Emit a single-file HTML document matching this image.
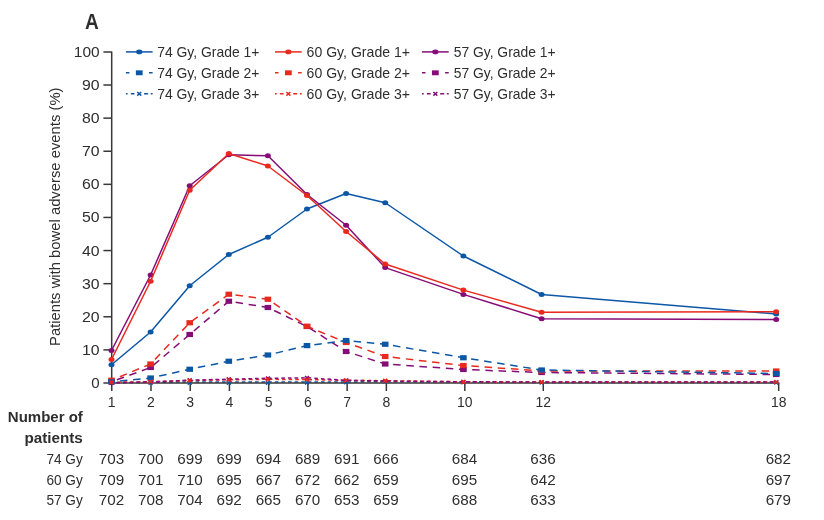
<!DOCTYPE html>
<html><head><meta charset="utf-8"><title>Chart</title>
<style>
html,body{margin:0;padding:0;background:#fff;}
svg{display:block;will-change:transform;}
text{font-family:"Liberation Sans",sans-serif;fill:#2e2e2e;}
</style></head><body>
<svg width="824" height="520" viewBox="0 0 824 520">
<rect width="824" height="520" fill="#fff"/>
<text transform="translate(84.9 28.7) scale(0.89 1)" font-size="21.4" font-weight="bold" fill="#151515">A</text>
<polyline points="111.5,382.6 150.6,382.3 189.7,382 228.8,382 267.9,382 307.0,382 346.1,382 385.2,381.6 463.4,382.2 541.6,382.4 776.2,382.4" fill="none" stroke="#0b57a6" stroke-width="1.5" stroke-dasharray="3.6 3.0" stroke-dashoffset="1.7"/>
<g stroke="#383838" stroke-width="1.5" fill="none"><path d="M103.4 51.9H111.7V383" stroke-linejoin="round"/><path d="M103.4 383H779.4"/><path d="M103.4 349.89H111.75"/><path d="M103.4 316.78H111.75"/><path d="M103.4 283.67H111.75"/><path d="M103.4 250.56H111.75"/><path d="M103.4 217.45H111.75"/><path d="M103.4 184.34H111.75"/><path d="M103.4 151.23H111.75"/><path d="M103.4 118.12H111.75"/><path d="M103.4 85.01H111.75"/><path d="M111.75 383V391"/><path d="M150.98 383V391"/><path d="M190.21 383V391"/><path d="M229.44 383V391"/><path d="M268.67 383V391"/><path d="M307.9 383V391"/><path d="M347.13 383V391"/><path d="M386.36 383V391"/><path d="M464.82 383V391"/><path d="M543.28 383V391"/><path d="M778.66 383V391"/></g>
<text x="99.6" y="388.00" font-size="14" text-anchor="end" textLength="8.4" lengthAdjust="spacingAndGlyphs">0</text><text x="99.6" y="354.89" font-size="14" text-anchor="end" textLength="17.6" lengthAdjust="spacingAndGlyphs">10</text><text x="99.6" y="321.78" font-size="14" text-anchor="end" textLength="17.6" lengthAdjust="spacingAndGlyphs">20</text><text x="99.6" y="288.67" font-size="14" text-anchor="end" textLength="17.6" lengthAdjust="spacingAndGlyphs">30</text><text x="99.6" y="255.56" font-size="14" text-anchor="end" textLength="17.6" lengthAdjust="spacingAndGlyphs">40</text><text x="99.6" y="222.45" font-size="14" text-anchor="end" textLength="17.6" lengthAdjust="spacingAndGlyphs">50</text><text x="99.6" y="189.34" font-size="14" text-anchor="end" textLength="17.6" lengthAdjust="spacingAndGlyphs">60</text><text x="99.6" y="156.23" font-size="14" text-anchor="end" textLength="17.6" lengthAdjust="spacingAndGlyphs">70</text><text x="99.6" y="123.12" font-size="14" text-anchor="end" textLength="17.6" lengthAdjust="spacingAndGlyphs">80</text><text x="99.6" y="90.01" font-size="14" text-anchor="end" textLength="17.6" lengthAdjust="spacingAndGlyphs">90</text><text x="99.6" y="56.90" font-size="14" text-anchor="end" textLength="25.8" lengthAdjust="spacingAndGlyphs">100</text>
<text x="111.75" y="406.8" font-size="14" text-anchor="middle" textLength="7.8" lengthAdjust="spacingAndGlyphs">1</text><text x="150.98" y="406.8" font-size="14" text-anchor="middle" textLength="7.8" lengthAdjust="spacingAndGlyphs">2</text><text x="190.21" y="406.8" font-size="14" text-anchor="middle" textLength="7.8" lengthAdjust="spacingAndGlyphs">3</text><text x="229.44" y="406.8" font-size="14" text-anchor="middle" textLength="7.8" lengthAdjust="spacingAndGlyphs">4</text><text x="268.67" y="406.8" font-size="14" text-anchor="middle" textLength="7.8" lengthAdjust="spacingAndGlyphs">5</text><text x="307.9" y="406.8" font-size="14" text-anchor="middle" textLength="7.8" lengthAdjust="spacingAndGlyphs">6</text><text x="347.13" y="406.8" font-size="14" text-anchor="middle" textLength="7.8" lengthAdjust="spacingAndGlyphs">7</text><text x="386.36" y="406.8" font-size="14" text-anchor="middle" textLength="7.8" lengthAdjust="spacingAndGlyphs">8</text><text x="464.82" y="406.8" font-size="14" text-anchor="middle" textLength="15.5" lengthAdjust="spacingAndGlyphs">10</text><text x="543.28" y="406.8" font-size="14" text-anchor="middle" textLength="15.5" lengthAdjust="spacingAndGlyphs">12</text><text x="778.66" y="406.8" font-size="14" text-anchor="middle" textLength="15.5" lengthAdjust="spacingAndGlyphs">18</text>
<text transform="translate(59.7 346) rotate(-90)" font-size="14.8" textLength="258.5" lengthAdjust="spacingAndGlyphs">Patients with bowel adverse events (%)</text>
<polyline points="111.5,364.75 150.6,332 189.7,285.75 228.8,254.5 267.9,237.25 307.0,209 346.1,193.5 385.2,202.75 463.4,256 541.6,294.5 776.2,314" fill="none" stroke="#0b57a6" stroke-width="1.5" stroke-linejoin="round"/><ellipse cx="111.5" cy="364.75" rx="3" ry="2.5" fill="#0b57a6"/><ellipse cx="150.6" cy="332" rx="3" ry="2.5" fill="#0b57a6"/><ellipse cx="189.7" cy="285.75" rx="3" ry="2.5" fill="#0b57a6"/><ellipse cx="228.8" cy="254.5" rx="3" ry="2.5" fill="#0b57a6"/><ellipse cx="267.9" cy="237.25" rx="3" ry="2.5" fill="#0b57a6"/><ellipse cx="307.0" cy="209" rx="3" ry="2.5" fill="#0b57a6"/><ellipse cx="346.1" cy="193.5" rx="3" ry="2.5" fill="#0b57a6"/><ellipse cx="385.2" cy="202.75" rx="3" ry="2.5" fill="#0b57a6"/><ellipse cx="463.4" cy="256" rx="3" ry="2.5" fill="#0b57a6"/><ellipse cx="541.6" cy="294.5" rx="3" ry="2.5" fill="#0b57a6"/><ellipse cx="776.2" cy="314" rx="3" ry="2.5" fill="#0b57a6"/>
<polyline points="111.5,350.5 150.6,275 189.7,185.75 228.8,154.75 267.9,155.75 307.0,194.5 346.1,225.25 385.2,267.6 463.4,294.4 541.6,318.75 776.2,319.6" fill="none" stroke="#860d77" stroke-width="1.5" stroke-linejoin="round"/><ellipse cx="111.5" cy="350.5" rx="3" ry="2.5" fill="#860d77"/><ellipse cx="150.6" cy="275" rx="3" ry="2.5" fill="#860d77"/><ellipse cx="189.7" cy="185.75" rx="3" ry="2.5" fill="#860d77"/><ellipse cx="228.8" cy="154.75" rx="3" ry="2.5" fill="#860d77"/><ellipse cx="267.9" cy="155.75" rx="3" ry="2.5" fill="#860d77"/><ellipse cx="307.0" cy="194.5" rx="3" ry="2.5" fill="#860d77"/><ellipse cx="346.1" cy="225.25" rx="3" ry="2.5" fill="#860d77"/><ellipse cx="385.2" cy="267.6" rx="3" ry="2.5" fill="#860d77"/><ellipse cx="463.4" cy="294.4" rx="3" ry="2.5" fill="#860d77"/><ellipse cx="541.6" cy="318.75" rx="3" ry="2.5" fill="#860d77"/><ellipse cx="776.2" cy="319.6" rx="3" ry="2.5" fill="#860d77"/>
<polyline points="111.5,359.5 150.6,281.25 189.7,190.25 228.8,153.5 267.9,166 307.0,195.5 346.1,231.5 385.2,264 463.4,290.1 541.6,312.25 776.2,311.8" fill="none" stroke="#e82a1e" stroke-width="1.5" stroke-linejoin="round"/><ellipse cx="111.5" cy="359.5" rx="3" ry="2.5" fill="#e82a1e"/><ellipse cx="150.6" cy="281.25" rx="3" ry="2.5" fill="#e82a1e"/><ellipse cx="189.7" cy="190.25" rx="3" ry="2.5" fill="#e82a1e"/><ellipse cx="228.8" cy="153.5" rx="3" ry="2.5" fill="#e82a1e"/><ellipse cx="267.9" cy="166" rx="3" ry="2.5" fill="#e82a1e"/><ellipse cx="307.0" cy="195.5" rx="3" ry="2.5" fill="#e82a1e"/><ellipse cx="346.1" cy="231.5" rx="3" ry="2.5" fill="#e82a1e"/><ellipse cx="385.2" cy="264" rx="3" ry="2.5" fill="#e82a1e"/><ellipse cx="463.4" cy="290.1" rx="3" ry="2.5" fill="#e82a1e"/><ellipse cx="541.6" cy="312.25" rx="3" ry="2.5" fill="#e82a1e"/><ellipse cx="776.2" cy="311.8" rx="3" ry="2.5" fill="#e82a1e"/>
<polyline points="111.5,381.75 150.6,367.5 189.7,334.5 228.8,301.25 267.9,307.5 307.0,326.5 346.1,351.5 385.2,364 463.4,369.5 541.6,372.5 776.2,374.5" fill="none" stroke="#860d77" stroke-width="1.5" stroke-dasharray="7.5 5.7" stroke-dashoffset="7.4"/><rect x="108.20" y="379.15" width="6.6" height="5.2" fill="#860d77"/><rect x="147.30" y="364.90" width="6.6" height="5.2" fill="#860d77"/><rect x="186.40" y="331.90" width="6.6" height="5.2" fill="#860d77"/><rect x="225.50" y="298.65" width="6.6" height="5.2" fill="#860d77"/><rect x="264.60" y="304.90" width="6.6" height="5.2" fill="#860d77"/><rect x="303.70" y="323.90" width="6.6" height="5.2" fill="#860d77"/><rect x="342.80" y="348.90" width="6.6" height="5.2" fill="#860d77"/><rect x="381.90" y="361.40" width="6.6" height="5.2" fill="#860d77"/><rect x="460.10" y="366.90" width="6.6" height="5.2" fill="#860d77"/><rect x="538.30" y="369.90" width="6.6" height="5.2" fill="#860d77"/><rect x="772.90" y="371.90" width="6.6" height="5.2" fill="#860d77"/>
<polyline points="111.5,380.2 150.6,364 189.7,322.75 228.8,294.25 267.9,299.25 307.0,326.25 346.1,342.5 385.2,356.5 463.4,365.5 541.6,371 776.2,371" fill="none" stroke="#e82a1e" stroke-width="1.5" stroke-dasharray="7.5 5.7" stroke-dashoffset="4.1"/><rect x="108.20" y="377.60" width="6.6" height="5.2" fill="#e82a1e"/><rect x="147.30" y="361.40" width="6.6" height="5.2" fill="#e82a1e"/><rect x="186.40" y="320.15" width="6.6" height="5.2" fill="#e82a1e"/><rect x="225.50" y="291.65" width="6.6" height="5.2" fill="#e82a1e"/><rect x="264.60" y="296.65" width="6.6" height="5.2" fill="#e82a1e"/><rect x="303.70" y="323.65" width="6.6" height="5.2" fill="#e82a1e"/><rect x="342.80" y="339.90" width="6.6" height="5.2" fill="#e82a1e"/><rect x="381.90" y="353.90" width="6.6" height="5.2" fill="#e82a1e"/><rect x="460.10" y="362.90" width="6.6" height="5.2" fill="#e82a1e"/><rect x="538.30" y="368.40" width="6.6" height="5.2" fill="#e82a1e"/><rect x="772.90" y="368.40" width="6.6" height="5.2" fill="#e82a1e"/>
<polyline points="111.5,381.8 150.6,378 189.7,369.25 228.8,361.25 267.9,355 307.0,345.6 346.1,340.5 385.2,344.25 463.4,357.75 541.6,370 776.2,373.5" fill="none" stroke="#0b57a6" stroke-width="1.5" stroke-dasharray="7.5 5.7" stroke-dashoffset="4.7"/><rect x="108.20" y="379.20" width="6.6" height="5.2" fill="#0b57a6"/><rect x="147.30" y="375.40" width="6.6" height="5.2" fill="#0b57a6"/><rect x="186.40" y="366.65" width="6.6" height="5.2" fill="#0b57a6"/><rect x="225.50" y="358.65" width="6.6" height="5.2" fill="#0b57a6"/><rect x="264.60" y="352.40" width="6.6" height="5.2" fill="#0b57a6"/><rect x="303.70" y="343.00" width="6.6" height="5.2" fill="#0b57a6"/><rect x="342.80" y="337.90" width="6.6" height="5.2" fill="#0b57a6"/><rect x="381.90" y="341.65" width="6.6" height="5.2" fill="#0b57a6"/><rect x="460.10" y="355.15" width="6.6" height="5.2" fill="#0b57a6"/><rect x="538.30" y="367.40" width="6.6" height="5.2" fill="#0b57a6"/><rect x="772.90" y="370.90" width="6.6" height="5.2" fill="#0b57a6"/>
<polyline points="111.5,382.3 150.6,381.7 189.7,380.5 228.8,379.8 267.9,379.3 307.0,379.6 346.1,380.3 385.2,380.7 463.4,381.8 541.6,382 776.2,382" fill="none" stroke="#e82a1e" stroke-width="1.5" stroke-dasharray="3.6 3.0" stroke-dashoffset="1.0"/>
<polyline points="111.5,383 150.6,382 189.7,380.2 228.8,379.2 267.9,378.3 307.0,377.8 346.1,380.3 385.2,381 463.4,381.8 541.6,382 776.2,382" fill="none" stroke="#860d77" stroke-width="1.5" stroke-dasharray="3.6 3.0" stroke-dashoffset="1.7"/>
<path d="M109.50 381.00L113.50 384.60M109.50 384.60L113.50 381.00" stroke="#0b57a6" stroke-width="1.5" fill="none"/><path d="M148.60 381.00L152.60 384.60M148.60 384.60L152.60 381.00" stroke="#0b57a6" stroke-width="1.5" fill="none"/><path d="M187.70 381.00L191.70 384.60M187.70 384.60L191.70 381.00" stroke="#0b57a6" stroke-width="1.5" fill="none"/><path d="M226.80 381.00L230.80 384.60M226.80 384.60L230.80 381.00" stroke="#0b57a6" stroke-width="1.5" fill="none"/><path d="M265.90 381.00L269.90 384.60M265.90 384.60L269.90 381.00" stroke="#0b57a6" stroke-width="1.5" fill="none"/><path d="M305.00 380.80L309.00 384.40M305.00 384.40L309.00 380.80" stroke="#0b57a6" stroke-width="1.5" fill="none"/><path d="M344.10 380.50L348.10 384.10M344.10 384.10L348.10 380.50" stroke="#0b57a6" stroke-width="1.5" fill="none"/><path d="M383.20 379.60L387.20 383.20M383.20 383.20L387.20 379.60" stroke="#0b57a6" stroke-width="1.5" fill="none"/><path d="M461.40 380.50L465.40 384.10M461.40 384.10L465.40 380.50" stroke="#0b57a6" stroke-width="1.5" fill="none"/><path d="M539.60 380.80L543.60 384.40M539.60 384.40L543.60 380.80" stroke="#0b57a6" stroke-width="1.5" fill="none"/><path d="M774.20 380.80L778.20 384.40M774.20 384.40L778.20 380.80" stroke="#0b57a6" stroke-width="1.5" fill="none"/>
<path d="M109.50 381.20L113.50 384.80M109.50 384.80L113.50 381.20" stroke="#860d77" stroke-width="1.5" fill="none"/><path d="M148.60 380.20L152.60 383.80M148.60 383.80L152.60 380.20" stroke="#860d77" stroke-width="1.5" fill="none"/><path d="M187.70 378.40L191.70 382.00M187.70 382.00L191.70 378.40" stroke="#860d77" stroke-width="1.5" fill="none"/><path d="M226.80 377.40L230.80 381.00M226.80 381.00L230.80 377.40" stroke="#860d77" stroke-width="1.5" fill="none"/><path d="M265.90 376.50L269.90 380.10M265.90 380.10L269.90 376.50" stroke="#860d77" stroke-width="1.5" fill="none"/><path d="M305.00 376.00L309.00 379.60M305.00 379.60L309.00 376.00" stroke="#860d77" stroke-width="1.5" fill="none"/><path d="M344.10 378.50L348.10 382.10M344.10 382.10L348.10 378.50" stroke="#860d77" stroke-width="1.5" fill="none"/><path d="M383.20 379.20L387.20 382.80M383.20 382.80L387.20 379.20" stroke="#860d77" stroke-width="1.5" fill="none"/><path d="M461.40 380.00L465.40 383.60M461.40 383.60L465.40 380.00" stroke="#860d77" stroke-width="1.5" fill="none"/><path d="M539.60 380.20L543.60 383.80M539.60 383.80L543.60 380.20" stroke="#860d77" stroke-width="1.5" fill="none"/><path d="M774.20 380.20L778.20 383.80M774.20 383.80L778.20 380.20" stroke="#860d77" stroke-width="1.5" fill="none"/>
<path d="M109.50 380.50L113.50 384.10M109.50 384.10L113.50 380.50" stroke="#e82a1e" stroke-width="1.5" fill="none"/><path d="M148.60 379.90L152.60 383.50M148.60 383.50L152.60 379.90" stroke="#e82a1e" stroke-width="1.5" fill="none"/><path d="M187.70 378.70L191.70 382.30M187.70 382.30L191.70 378.70" stroke="#e82a1e" stroke-width="1.5" fill="none"/><path d="M226.80 378.00L230.80 381.60M226.80 381.60L230.80 378.00" stroke="#e82a1e" stroke-width="1.5" fill="none"/><path d="M265.90 377.50L269.90 381.10M265.90 381.10L269.90 377.50" stroke="#e82a1e" stroke-width="1.5" fill="none"/><path d="M305.00 377.80L309.00 381.40M305.00 381.40L309.00 377.80" stroke="#e82a1e" stroke-width="1.5" fill="none"/><path d="M344.10 378.50L348.10 382.10M344.10 382.10L348.10 378.50" stroke="#e82a1e" stroke-width="1.5" fill="none"/><path d="M383.20 378.90L387.20 382.50M383.20 382.50L387.20 378.90" stroke="#e82a1e" stroke-width="1.5" fill="none"/><path d="M461.40 380.00L465.40 383.60M461.40 383.60L465.40 380.00" stroke="#e82a1e" stroke-width="1.5" fill="none"/><path d="M539.60 380.20L543.60 383.80M539.60 383.80L543.60 380.20" stroke="#e82a1e" stroke-width="1.5" fill="none"/><path d="M774.20 380.20L778.20 383.80M774.20 383.80L778.20 380.20" stroke="#e82a1e" stroke-width="1.5" fill="none"/>
<path d="M125.9 51.9H152.6" stroke="#0b57a6" stroke-width="1.5"/><ellipse cx="139.25" cy="51.9" rx="3.1" ry="2.4" fill="#0b57a6"/><path d="M125.9 72.8H129.4M149.0 72.8H152.6" stroke="#0b57a6" stroke-width="1.5"/><rect x="135.85" y="70.35" width="6.8" height="4.9" fill="#0b57a6"/><path d="M125.9 93.8H127.60000000000001M130.8 93.8H134.5M144.1 93.8H148.1M150.8 93.8H152.6" stroke="#0b57a6" stroke-width="1.5"/><path d="M137.25 92.00L141.25 95.60M137.25 95.60L141.25 92.00" stroke="#0b57a6" stroke-width="1.5" fill="none"/><text x="157.2" y="57" font-size="15" textLength="102.2" lengthAdjust="spacingAndGlyphs">74 Gy, Grade 1+</text><text x="157.2" y="77.8" font-size="15" textLength="102.2" lengthAdjust="spacingAndGlyphs">74 Gy, Grade 2+</text><text x="157.2" y="98.6" font-size="15" textLength="102.2" lengthAdjust="spacingAndGlyphs">74 Gy, Grade 3+</text>
<path d="M275 51.9H301.7" stroke="#e82a1e" stroke-width="1.5"/><ellipse cx="288.35" cy="51.9" rx="3.1" ry="2.4" fill="#e82a1e"/><path d="M275 72.8H278.5M298.1 72.8H301.7" stroke="#e82a1e" stroke-width="1.5"/><rect x="284.95" y="70.35" width="6.8" height="4.9" fill="#e82a1e"/><path d="M275 93.8H276.7M279.9 93.8H283.6M293.2 93.8H297.2M299.9 93.8H301.7" stroke="#e82a1e" stroke-width="1.5"/><path d="M286.35 92.00L290.35 95.60M286.35 95.60L290.35 92.00" stroke="#e82a1e" stroke-width="1.5" fill="none"/><text x="306.6" y="57" font-size="15" textLength="103.4" lengthAdjust="spacingAndGlyphs">60 Gy, Grade 1+</text><text x="306.6" y="77.8" font-size="15" textLength="103.4" lengthAdjust="spacingAndGlyphs">60 Gy, Grade 2+</text><text x="306.6" y="98.6" font-size="15" textLength="103.4" lengthAdjust="spacingAndGlyphs">60 Gy, Grade 3+</text>
<path d="M422 51.9H448.7" stroke="#860d77" stroke-width="1.5"/><ellipse cx="435.35" cy="51.9" rx="3.1" ry="2.4" fill="#860d77"/><path d="M422 72.8H425.5M445.1 72.8H448.7" stroke="#860d77" stroke-width="1.5"/><rect x="431.95" y="70.35" width="6.8" height="4.9" fill="#860d77"/><path d="M422 93.8H423.7M426.9 93.8H430.6M440.2 93.8H444.2M446.9 93.8H448.7" stroke="#860d77" stroke-width="1.5"/><path d="M433.35 92.00L437.35 95.60M433.35 95.60L437.35 92.00" stroke="#860d77" stroke-width="1.5" fill="none"/><text x="453.7" y="57" font-size="15" textLength="101.9" lengthAdjust="spacingAndGlyphs">57 Gy, Grade 1+</text><text x="453.7" y="77.8" font-size="15" textLength="101.9" lengthAdjust="spacingAndGlyphs">57 Gy, Grade 2+</text><text x="453.7" y="98.6" font-size="15" textLength="101.9" lengthAdjust="spacingAndGlyphs">57 Gy, Grade 3+</text>
<text x="82.8" y="421.8" font-size="15" font-weight="bold" text-anchor="end" textLength="75" lengthAdjust="spacingAndGlyphs" fill="#1a1a1a">Number of</text><text x="82.8" y="442.5" font-size="15" font-weight="bold" text-anchor="end" textLength="58.4" lengthAdjust="spacingAndGlyphs" fill="#1a1a1a">patients</text>
<text x="82.8" y="464.3" font-size="15" text-anchor="end" textLength="36.4" lengthAdjust="spacingAndGlyphs">74 Gy</text><text x="111.45" y="464.3" font-size="15" text-anchor="middle" textLength="25.4" lengthAdjust="spacingAndGlyphs">703</text><text x="150.68" y="464.3" font-size="15" text-anchor="middle" textLength="25.4" lengthAdjust="spacingAndGlyphs">700</text><text x="189.91" y="464.3" font-size="15" text-anchor="middle" textLength="25.4" lengthAdjust="spacingAndGlyphs">699</text><text x="229.14" y="464.3" font-size="15" text-anchor="middle" textLength="25.4" lengthAdjust="spacingAndGlyphs">699</text><text x="268.37" y="464.3" font-size="15" text-anchor="middle" textLength="25.4" lengthAdjust="spacingAndGlyphs">694</text><text x="307.60" y="464.3" font-size="15" text-anchor="middle" textLength="25.4" lengthAdjust="spacingAndGlyphs">689</text><text x="346.83" y="464.3" font-size="15" text-anchor="middle" textLength="25.4" lengthAdjust="spacingAndGlyphs">691</text><text x="386.06" y="464.3" font-size="15" text-anchor="middle" textLength="25.4" lengthAdjust="spacingAndGlyphs">666</text><text x="464.52" y="464.3" font-size="15" text-anchor="middle" textLength="25.4" lengthAdjust="spacingAndGlyphs">684</text><text x="542.98" y="464.3" font-size="15" text-anchor="middle" textLength="25.4" lengthAdjust="spacingAndGlyphs">636</text><text x="778.36" y="464.3" font-size="15" text-anchor="middle" textLength="25.4" lengthAdjust="spacingAndGlyphs">682</text>
<text x="82.8" y="484.6" font-size="15" text-anchor="end" textLength="36.4" lengthAdjust="spacingAndGlyphs">60 Gy</text><text x="111.45" y="484.6" font-size="15" text-anchor="middle" textLength="25.4" lengthAdjust="spacingAndGlyphs">709</text><text x="150.68" y="484.6" font-size="15" text-anchor="middle" textLength="25.4" lengthAdjust="spacingAndGlyphs">701</text><text x="189.91" y="484.6" font-size="15" text-anchor="middle" textLength="25.4" lengthAdjust="spacingAndGlyphs">710</text><text x="229.14" y="484.6" font-size="15" text-anchor="middle" textLength="25.4" lengthAdjust="spacingAndGlyphs">695</text><text x="268.37" y="484.6" font-size="15" text-anchor="middle" textLength="25.4" lengthAdjust="spacingAndGlyphs">667</text><text x="307.60" y="484.6" font-size="15" text-anchor="middle" textLength="25.4" lengthAdjust="spacingAndGlyphs">672</text><text x="346.83" y="484.6" font-size="15" text-anchor="middle" textLength="25.4" lengthAdjust="spacingAndGlyphs">662</text><text x="386.06" y="484.6" font-size="15" text-anchor="middle" textLength="25.4" lengthAdjust="spacingAndGlyphs">659</text><text x="464.52" y="484.6" font-size="15" text-anchor="middle" textLength="25.4" lengthAdjust="spacingAndGlyphs">695</text><text x="542.98" y="484.6" font-size="15" text-anchor="middle" textLength="25.4" lengthAdjust="spacingAndGlyphs">642</text><text x="778.36" y="484.6" font-size="15" text-anchor="middle" textLength="25.4" lengthAdjust="spacingAndGlyphs">697</text>
<text x="82.8" y="505" font-size="15" text-anchor="end" textLength="36.4" lengthAdjust="spacingAndGlyphs">57 Gy</text><text x="111.45" y="505" font-size="15" text-anchor="middle" textLength="25.4" lengthAdjust="spacingAndGlyphs">702</text><text x="150.68" y="505" font-size="15" text-anchor="middle" textLength="25.4" lengthAdjust="spacingAndGlyphs">708</text><text x="189.91" y="505" font-size="15" text-anchor="middle" textLength="25.4" lengthAdjust="spacingAndGlyphs">704</text><text x="229.14" y="505" font-size="15" text-anchor="middle" textLength="25.4" lengthAdjust="spacingAndGlyphs">692</text><text x="268.37" y="505" font-size="15" text-anchor="middle" textLength="25.4" lengthAdjust="spacingAndGlyphs">665</text><text x="307.60" y="505" font-size="15" text-anchor="middle" textLength="25.4" lengthAdjust="spacingAndGlyphs">670</text><text x="346.83" y="505" font-size="15" text-anchor="middle" textLength="25.4" lengthAdjust="spacingAndGlyphs">653</text><text x="386.06" y="505" font-size="15" text-anchor="middle" textLength="25.4" lengthAdjust="spacingAndGlyphs">659</text><text x="464.52" y="505" font-size="15" text-anchor="middle" textLength="25.4" lengthAdjust="spacingAndGlyphs">688</text><text x="542.98" y="505" font-size="15" text-anchor="middle" textLength="25.4" lengthAdjust="spacingAndGlyphs">633</text><text x="778.36" y="505" font-size="15" text-anchor="middle" textLength="25.4" lengthAdjust="spacingAndGlyphs">679</text>
</svg>
</body></html>
